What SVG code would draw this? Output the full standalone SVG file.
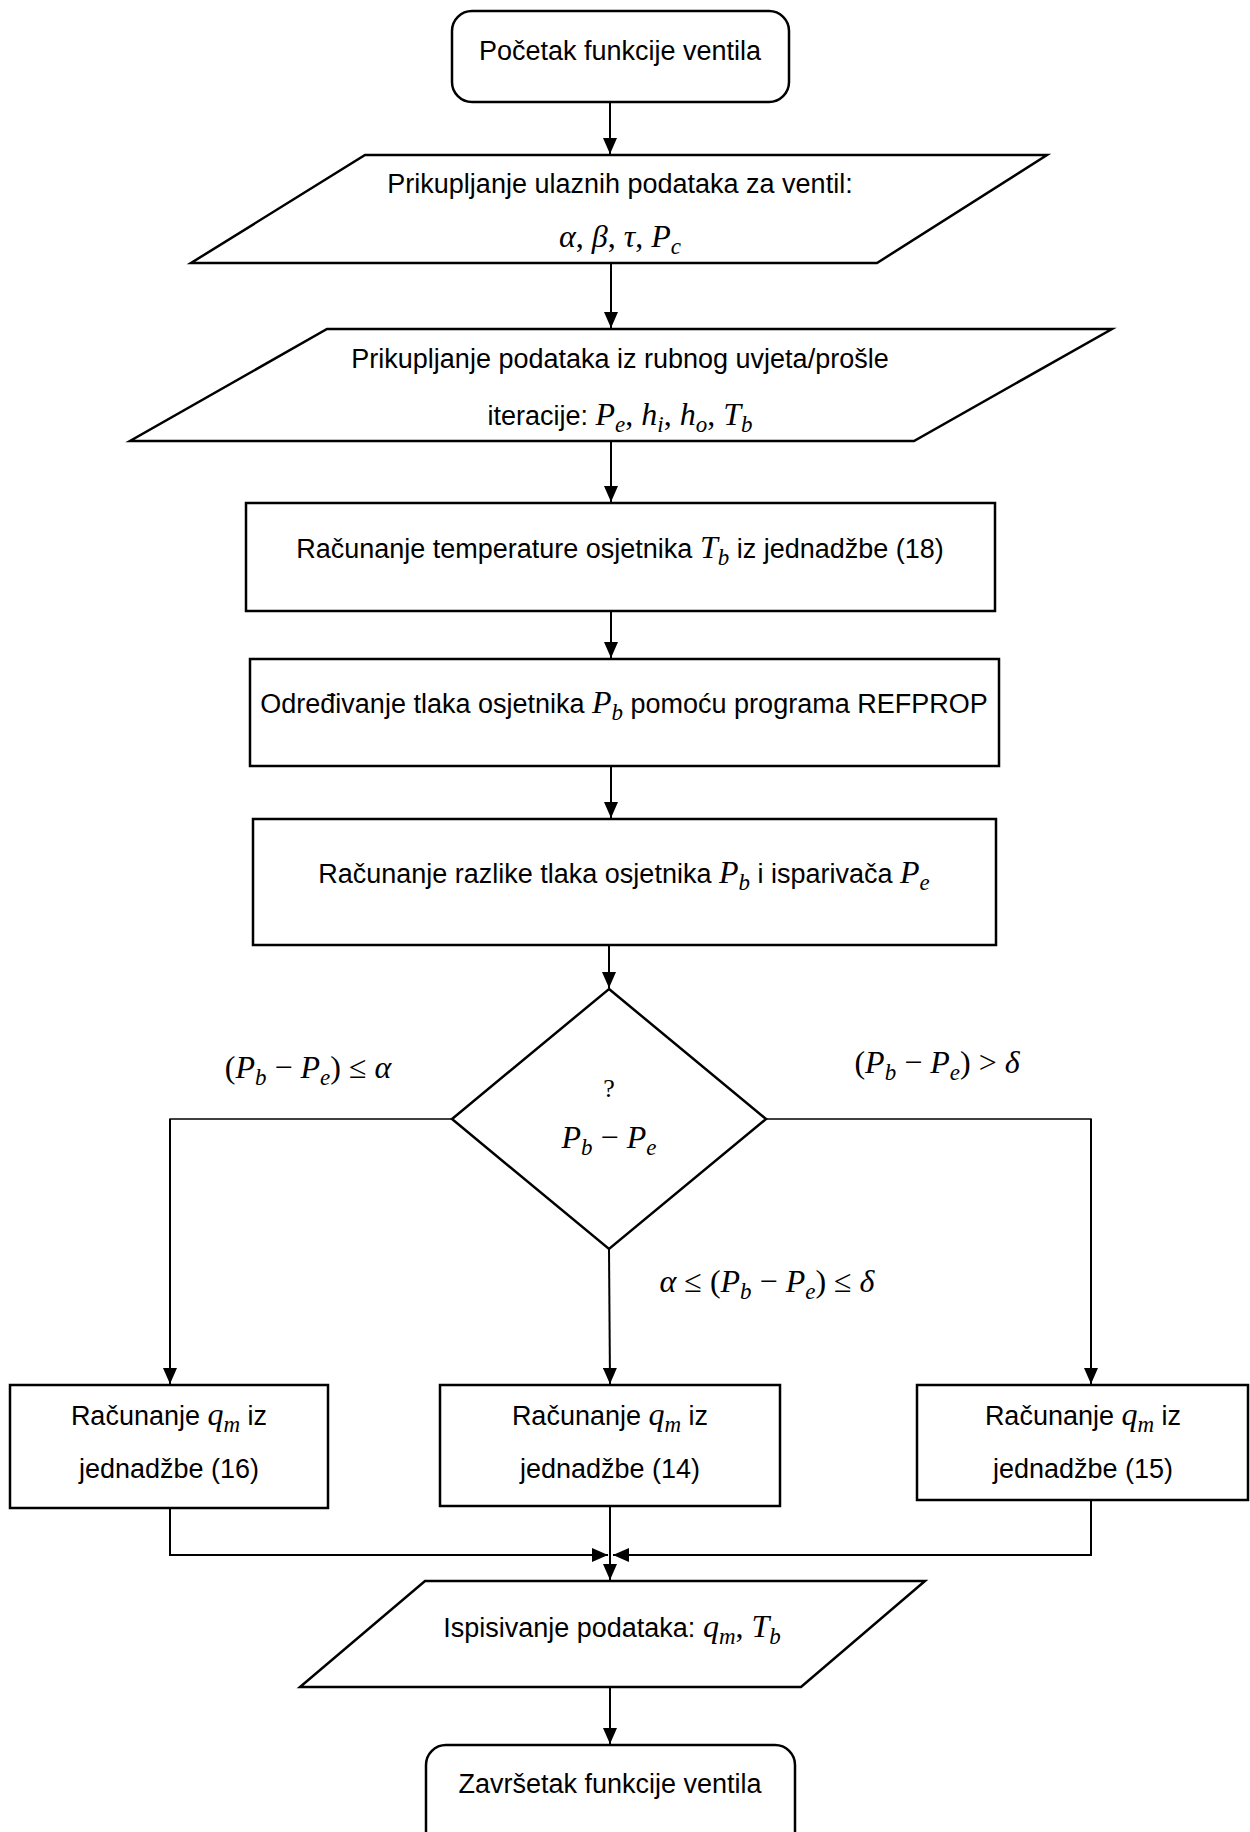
<svg xmlns="http://www.w3.org/2000/svg" width="1250" height="1832" viewBox="0 0 1250 1832">
<style>
.shape{fill:#fff;stroke:#000;stroke-width:2.5}
.conn{fill:none;stroke:#000;stroke-width:2}
.thin{fill:none;stroke:#000;stroke-width:1.3}
text{font-family:"Liberation Sans",Arial,sans-serif;font-size:27px;fill:#000;text-anchor:middle}
.m{font-family:"Liberation Serif","Times New Roman",serif;font-style:italic;font-size:32px}
.o{font-family:"Liberation Serif","Times New Roman",serif;font-style:normal;font-size:32px}
.s{font-family:"Liberation Serif","Times New Roman",serif;font-style:italic;font-size:23px}
</style>
<defs>
<marker id="arr" markerUnits="userSpaceOnUse" markerWidth="16" markerHeight="14" refX="16" refY="7" orient="auto">
<path d="M0,0 L16,7 L0,14 z" fill="#000"/>
</marker>
</defs>
<rect width="1250" height="1832" fill="#fff"/>

<g id="connectors">
<line class="conn" x1="610" y1="102" x2="610" y2="154" marker-end="url(#arr)"/>
<line class="conn" x1="611" y1="263" x2="611" y2="328" marker-end="url(#arr)"/>
<line class="conn" x1="611" y1="441" x2="611" y2="502" marker-end="url(#arr)"/>
<line class="conn" x1="611" y1="611" x2="611" y2="658" marker-end="url(#arr)"/>
<line class="conn" x1="611" y1="766" x2="611" y2="818" marker-end="url(#arr)"/>
<line class="conn" x1="609" y1="945" x2="609" y2="988" marker-end="url(#arr)"/>
<polyline class="thin" points="452,1119 170,1119 170,1300"/>
<line class="conn" x1="170" y1="1119" x2="170" y2="1384" marker-end="url(#arr)"/>
<line class="conn" x1="609" y1="1249" x2="610" y2="1384" marker-end="url(#arr)"/>
<polyline class="thin" points="766,1119 1091,1119 1091,1300"/>
<line class="conn" x1="1091" y1="1119" x2="1091" y2="1384" marker-end="url(#arr)"/>
<polyline class="conn" points="170,1508 170,1555 608,1555" marker-end="url(#arr)"/>
<polyline class="conn" points="1091,1500 1091,1555 613,1555" marker-end="url(#arr)"/>
<line class="conn" x1="610" y1="1506" x2="610" y2="1580" marker-end="url(#arr)"/>
<line class="conn" x1="610" y1="1687" x2="610" y2="1744" marker-end="url(#arr)"/>
</g>

<g id="start">
<rect class="shape" x="452" y="11" width="337" height="91" rx="20"/>
<text x="620" y="60">Početak funkcije ventila</text>
</g>

<g id="input1">
<polygon class="shape" points="365,155 1047,155 877,263 191,263"/>
<text x="620" y="193">Prikupljanje ulaznih podataka za ventil:</text>
<text x="620" y="247"><tspan class="m">α</tspan><tspan class="o">, </tspan><tspan class="m">β</tspan><tspan class="o">, </tspan><tspan class="m">τ</tspan><tspan class="o">, </tspan><tspan class="m">P</tspan><tspan class="s" dy="7">c</tspan></text>
</g>

<g id="input2">
<polygon class="shape" points="327,329 1112,329 914,441 130,441"/>
<text x="620" y="368">Prikupljanje podataka iz rubnog uvjeta/prošle</text>
<text x="620" y="425">iteracije: <tspan class="m">P</tspan><tspan class="s" dy="7">e</tspan><tspan class="o" dy="-7">, </tspan><tspan class="m">h</tspan><tspan class="s" dy="7">i</tspan><tspan class="o" dy="-7">, </tspan><tspan class="m">h</tspan><tspan class="s" dy="7">o</tspan><tspan class="o" dy="-7">, </tspan><tspan class="m">T</tspan><tspan class="s" dy="7">b</tspan></text>
</g>

<g id="step-temp">
<rect class="shape" x="246" y="503" width="749" height="108"/>
<text x="620" y="558">Računanje temperature osjetnika <tspan class="m">T</tspan><tspan class="s" dy="7">b</tspan><tspan dy="-7"> iz jednadžbe (18)</tspan></text>
</g>

<g id="step-pressure">
<rect class="shape" x="250" y="659" width="749" height="107"/>
<text x="624" y="713">Određivanje tlaka osjetnika <tspan class="m">P</tspan><tspan class="s" dy="7">b</tspan><tspan dy="-7"> pomoću programa REFPROP</tspan></text>
</g>

<g id="step-diff">
<rect class="shape" x="253" y="819" width="743" height="126"/>
<text x="624" y="883">Računanje razlike tlaka osjetnika <tspan class="m">P</tspan><tspan class="s" dy="7">b</tspan><tspan dy="-7"> i isparivača </tspan><tspan class="m">P</tspan><tspan class="s" dy="7">e</tspan></text>
</g>

<g id="decision">
<polygon class="shape" points="609,989 766,1119 609,1249 452,1119"/>
<text x="609" y="1097" class="o" style="font-size:26px">?</text>
<text x="609" y="1148"><tspan class="m">P</tspan><tspan class="s" dy="7">b</tspan><tspan class="o" dy="-7"> − </tspan><tspan class="m">P</tspan><tspan class="s" dy="7">e</tspan></text>
</g>

<g id="labels">
<text x="308" y="1078"><tspan class="o">(</tspan><tspan class="m">P</tspan><tspan class="s" dy="7">b</tspan><tspan class="o" dy="-7"> − </tspan><tspan class="m">P</tspan><tspan class="s" dy="7">e</tspan><tspan class="o" dy="-7">) ≤ </tspan><tspan class="m">α</tspan></text>
<text x="937" y="1073"><tspan class="o">(</tspan><tspan class="m">P</tspan><tspan class="s" dy="7">b</tspan><tspan class="o" dy="-7"> − </tspan><tspan class="m">P</tspan><tspan class="s" dy="7">e</tspan><tspan class="o" dy="-7">) &gt; </tspan><tspan class="m">δ</tspan></text>
<text x="767" y="1292"><tspan class="m">α</tspan><tspan class="o"> ≤ (</tspan><tspan class="m">P</tspan><tspan class="s" dy="7">b</tspan><tspan class="o" dy="-7"> − </tspan><tspan class="m">P</tspan><tspan class="s" dy="7">e</tspan><tspan class="o" dy="-7">) ≤ </tspan><tspan class="m">δ</tspan></text>
</g>

<g id="calc-16">
<rect class="shape" x="10" y="1385" width="318" height="123"/>
<text x="169" y="1425">Računanje <tspan class="m">q</tspan><tspan class="s" dy="7">m</tspan><tspan dy="-7"> iz</tspan></text>
<text x="169" y="1478">jednadžbe (16)</text>
</g>

<g id="calc-14">
<rect class="shape" x="440" y="1385" width="340" height="121"/>
<text x="610" y="1425">Računanje <tspan class="m">q</tspan><tspan class="s" dy="7">m</tspan><tspan dy="-7"> iz</tspan></text>
<text x="610" y="1478">jednadžbe (14)</text>
</g>

<g id="calc-15">
<rect class="shape" x="917" y="1385" width="331" height="115"/>
<text x="1083" y="1425">Računanje <tspan class="m">q</tspan><tspan class="s" dy="7">m</tspan><tspan dy="-7"> iz</tspan></text>
<text x="1083" y="1478">jednadžbe (15)</text>
</g>

<g id="output">
<polygon class="shape" points="425,1581 925,1581 801,1687 300,1687"/>
<text x="612" y="1637">Ispisivanje podataka: <tspan class="m">q</tspan><tspan class="s" dy="7">m</tspan><tspan class="o" dy="-7">, </tspan><tspan class="m">T</tspan><tspan class="s" dy="7">b</tspan></text>
</g>

<g id="end">
<rect class="shape" x="426" y="1745" width="369" height="110" rx="20"/>
<text x="610" y="1793">Završetak funkcije ventila</text>
</g>
</svg>
